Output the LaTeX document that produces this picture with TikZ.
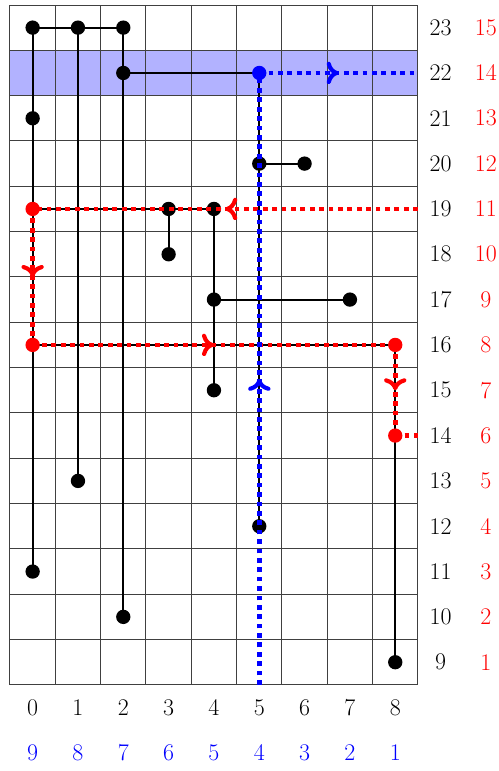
\documentclass[tikz,border=0pt]{standalone}
\usetikzlibrary{decorations.markings,arrows.meta}
\begin{document}
\begin{tikzpicture}[
  gridline/.style={line width=0.6pt, black!75},
  wire/.style={line width=1.3pt, black},
  dot/.style={circle, fill, inner sep=0pt, minimum size=0.316cm},
  flow/.style={line width=3pt, dash pattern=on 3pt off 2.9pt,
    postaction={decorate},
    decoration={markings, mark=at position 0.5 with {\arrow{Computer Modern Rightarrow[length=7.5pt, width=14pt, line width=2.6pt]}}}},
  plainflow/.style={line width=3pt, dash pattern=on 3pt off 2.9pt},
  lbl/.style={font=\fontsize{15}{18}\selectfont, inner sep=0pt}
]
\useasboundingbox (-0.72,6.60) rectangle (10.288,23.61);
% band
\fill[blue!30] (-0.5,21.5) rectangle (8.5,22.5);
% grid
\draw[gridline, shift={(-0.5,-0.5)}] (0,9) grid (9,24);
% coordinates
\foreach \x in {0,...,8}{\foreach \y in {9,...,23}{\coordinate (p\x-\y) at (\x,\y);}}
\coordinate (eR19) at (8.5,19);
\coordinate (eR14) at (8.5,14);
\coordinate (eB22) at (8.5,22);
\coordinate (eB5) at (5,8.5);
% labels
\foreach \y in {9,...,23}{
  \pgfmathtruncatemacro{\r}{\y-8}
  \node[lbl] (rl\y) at (9,\y) {\y};
  \node[lbl, red] (rr\y) at (10,\y) {\r};
}
\foreach \x in {0,...,8}{
  \pgfmathtruncatemacro{\b}{9-\x}
  \node[lbl] (bl\x) at (\x,8) {\x};
  \node[lbl, blue] (bb\x) at (\x,7) {\b};
}
% black wires
\draw[wire] (p0-23) -- (p0-11);
\draw[wire] (p0-23) -- (p2-23);
\draw[wire] (p1-23) -- (p1-13);
\draw[wire] (p2-23) -- (p2-10);
\draw[wire] (p2-22) -- (p5-22);
\draw[wire] (p5-22) -- (p5-12);
\draw[wire] (p5-20) -- (p6-20);
\draw[wire] (p0-19) -- (p4-19);
\draw[wire] (p3-19) -- (p3-18);
\draw[wire] (p4-19) -- (p4-15);
\draw[wire] (p4-17) -- (p7-17);
\draw[wire] (p0-16) -- (p8-16);
\draw[wire] (p8-16) -- (p8-9);
% black dots
\foreach \p in {0-23,1-23,2-23,2-22,0-21,0-11,1-13,2-10,5-20,6-20,3-19,4-19,3-18,4-17,7-17,4-15,5-12,8-9}
  \node[dot, black] (d\p) at (p\p) {};
% red path
\draw[flow, red] (eR19) -- (p0-19);
\draw[flow, red] (p0-19) -- (p0-16);
\draw[flow, red] (p0-16) -- (p8-16);
\draw[flow, red] (p8-16) -- (p8-14);
\draw[plainflow, red] (p8-14) -- (eR14);
% blue path
\draw[flow, blue] (eB5) -- (p5-22);
\draw[flow, blue] (p5-22) -- (eB22);
% coloured dots
\foreach \p in {0-19,0-16,8-16,8-14}
  \node[dot, red] (d\p) at (p\p) {};
\node[dot, blue] (d5-22) at (p5-22) {};
\end{tikzpicture}
\end{document}
